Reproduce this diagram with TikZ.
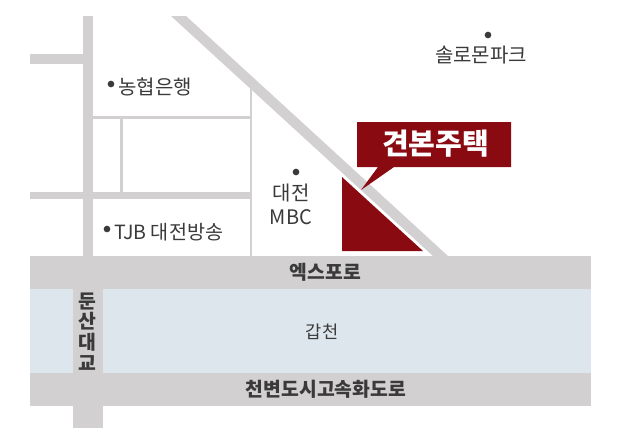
\documentclass[tikz,border=0pt]{standalone}
\usepackage{fontspec}
\setmainfont{Noto Sans CJK KR}
\definecolor{road}{HTML}{D2D0D1}
\definecolor{river}{HTML}{DDE6EC}
\definecolor{brand}{HTML}{8A0A12}
\definecolor{ink}{HTML}{3A3A3A}
\tikzset{
  roadfill/.style={fill=road,draw=none},
  place/.style={text=ink,inner sep=0pt,font=\fontsize{15}{18}\selectfont,align=center},
  roadname/.style={text=ink,inner sep=0pt,font=\bfseries\fontsize{14.5}{16}\selectfont},
  pin/.style={fill=ink,draw=none,circle,minimum size=5pt,inner sep=0pt}
}
\begin{document}
\begin{tikzpicture}[x=0.75pt,y=-0.75pt]
\useasboundingbox (0,0) rectangle (620,444);
\fill[white] (0,0) rectangle (620,444);
% small roads
\fill[roadfill] (83,16) rectangle (93,256);
\fill[roadfill] (30,53.5) rectangle (83,64);
\fill[roadfill] (30,192) rectangle (250,199);
\fill[roadfill] (93,116) rectangle (250,119);
\fill[roadfill] (119.5,119) rectangle (122.5,192);
\fill[roadfill] (249.5,85) rectangle (252,256);
\fill[roadfill] (171,16) -- (186,16) -- (448,256) -- (433,256) -- cycle;
% main bands
\fill[river] (30,289) rectangle (591,373);
\fill[roadfill] (30,256) rectangle (591,289);
\fill[roadfill] (30,373) rectangle (591,406);
\fill[roadfill] (73,289) rectangle (103,373);
\fill[roadfill] (73,406) rectangle (103,428);
% site
\fill[brand] (342,177) -- (342,251) -- (423,251) -- cycle;
\fill[brand] (357,122) -- (511,122) -- (511,167) -- (394,167) -- (361,190) -- (378,167) -- (357,167) -- cycle;
\node[text=white,inner sep=0pt,font=\bfseries\fontsize{21.8}{24}\selectfont] (site) at (435.5,144) {견본주택};
% labels
\node[pin] (p1) at (111,84) {};
\node[place,anchor=west] (nh) at (118,87) {농협은행};
\node[pin] (p2) at (488,35) {};
\node[place] (sol) at (481,55) {솔로몬파크};
\node[pin] (p3) at (296,172) {};
\node[place] (mbc) at (291,204) {대전\\MBC};
\node[pin] (p4) at (107,229) {};
\node[place,anchor=west,font=\fontsize{14.7}{18}\selectfont] (tjb) at (114,232) {TJB 대전방송};
\node[roadname] (r1) at (325.5,272) {엑스포로};
\node[place,font=\fontsize{13.2}{16}\selectfont] (r2) at (322,332) {갑천};
\node[roadname] (r3) at (326,389) {천변도시고속화도로};
\node[roadname,align=center,font=\bfseries\fontsize{14.5}{15.6}\selectfont] (r4) at (87.5,331.5) {둔\\산\\대\\교};
\end{tikzpicture}
\end{document}
